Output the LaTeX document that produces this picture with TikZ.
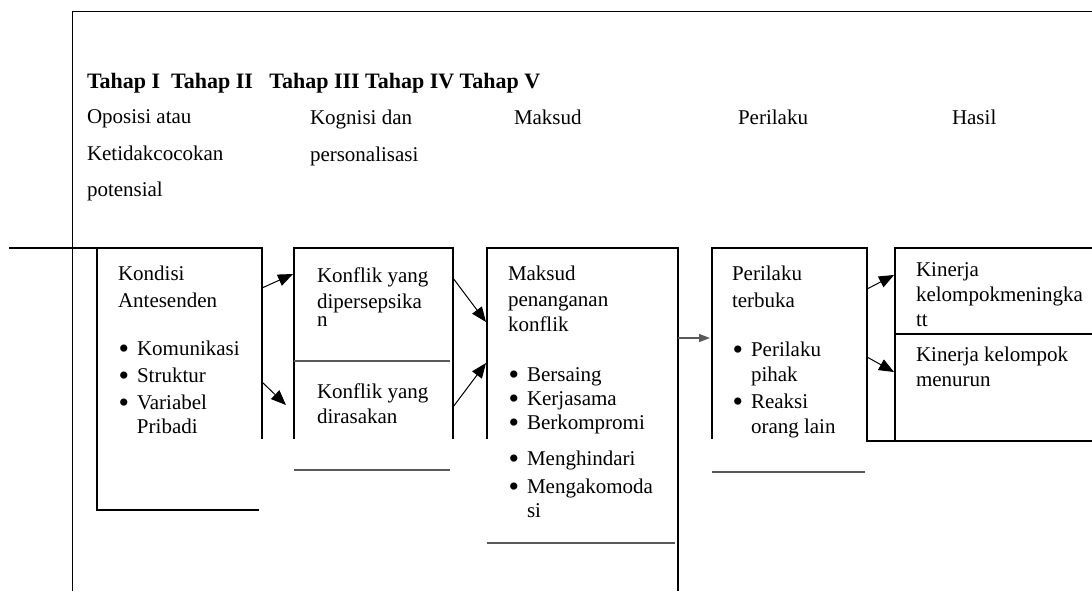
\documentclass[tikz,border=0pt]{standalone}
\usepackage{fontspec}
\setmainfont{Liberation Serif}
\usetikzlibrary{arrows.meta}
\newcommand{\bul}{\makebox[9.5pt][l]{\hspace{0.3pt}\raisebox{-1.6pt}{\fontsize{15}{15}\selectfont\textbullet}}}
\newcommand{\ind}{\hspace*{9.5pt}}

\begin{document}
\begin{tikzpicture}[x=0.5pt,y=-0.5pt,
txt/.style={inner sep=0pt,outer sep=0pt,align=left,font=\fontsize{10.5}{13}\selectfont},
headtxt/.style={txt,anchor=base west},
blocktxt/.style={txt,anchor=north west},
frameline/.style={line width=0.5pt},
boxline/.style={line width=0.8pt},
softline/.style={line width=0.7pt,black!65},
arr/.style={-{Triangle[length=7.5pt,width=6pt]},line width=0.5pt},
greyarr/.style={-{Triangle[length=5.5pt,width=4pt]},line width=0.7pt,black!65}]
\useasboundingbox (0,0) rectangle (1092,591);
\draw[frameline](72,591)--(72,11)--(1092,11);
\node[headtxt,font=\fontsize{11}{13}\selectfont\bfseries](tahap) at (87,88){Tahap I\ \ Tahap II\ \ \ Tahap III Tahap IV Tahap V};
\node[blocktxt](oposisi) at (87,109.7){Oposisi atau\\[5.5pt]Ketidakcocokan\\[5pt]potensial};
\node[blocktxt](kognisi) at (310,109.7){Kognisi dan\\[5.5pt]personalisasi};
\node[headtxt](maksudhd) at (514,124){Maksud};
\node[headtxt](perilakuhd) at (738,124){Perilaku};
\node[headtxt](hasilhd) at (952,124){Hasil};
\draw[boxline](9,248)--(262,248)--(262,439);
\draw[boxline](97,248)--(97,510)--(259,510);
\draw[boxline](294,439)--(294,248)--(453,248)--(453,439);
\draw[softline](294,361)--(450,361);
\draw[softline](294,470)--(450,470);
\draw[boxline](487,439)--(487,248)--(678,248)--(678,591);
\draw[softline](487,543)--(675,543);
\draw[boxline](712,439)--(712,248)--(867,248)--(867,441)--(1092,441);
\draw[softline](712,472)--(865,472);
\draw[boxline](895,441)--(895,248)--(1092,248);
\draw[boxline](895,334)--(1092,334);
\node[blocktxt](kondisi) at (118,265.7){Kondisi\\[0.5pt]Antesenden\\[11pt]\bul Komunikasi\\[0.5pt]\bul Struktur\\[0.5pt]\bul Variabel\\[-1pt]\ind Pribadi};
\node[blocktxt](dipersepsi) at (317,267.5){Konflik yang\\dipersepsika\\[-4pt]n};
\node[blocktxt](dirasa) at (317,383.5){Konflik yang\\[-0.5pt]dirasakan};
\node[blocktxt](maksud) at (508,265.7){Maksud\\penanganan\\[-0.5pt]konflik\\[12pt]\bul Bersaing\\[-1pt]\bul Kerjasama\\[-1pt]\bul Berkompromi\\[5pt]\bul Menghindari\\[1pt]\bul Mengakomoda\\[-1pt]\ind si};
\node[blocktxt](terbuka) at (732,265.7){Perilaku\\[0.5pt]terbuka\\[11.5pt]\bul Perilaku\\[-0.5pt]\ind pihak\\[0.5pt]\bul Reaksi\\[-0.5pt]\ind orang lain};
\node[blocktxt](naik) at (916,262.5){Kinerja\\[-0.5pt]kelompokmeningka\\[-0.5pt]tt};
\node[blocktxt](turun) at (916,346.5){Kinerja kelompok\\[-0.5pt]menurun};
\coordinate(kondisi-o1) at (262,288);\coordinate(dipersepsi-i) at (293,274);
\coordinate(kondisi-o2) at (262,382);\coordinate(dirasa-i) at (286,405);
\coordinate(dipersepsi-o) at (453,278);\coordinate(maksud-i1) at (486,322);
\coordinate(dirasa-o) at (453,407);\coordinate(maksud-i2) at (486,363);
\coordinate(maksud-o) at (678,338);\coordinate(terbuka-i) at (710,338);
\coordinate(terbuka-o1) at (867,289);\coordinate(naik-i) at (894,275);
\coordinate(terbuka-o2) at (867,357);\coordinate(turun-i) at (894,372);
\draw[arr](kondisi-o1)--(dipersepsi-i);\draw[arr](kondisi-o2)--(dirasa-i);
\draw[arr](dipersepsi-o)--(maksud-i1);\draw[arr](dirasa-o)--(maksud-i2);
\draw[greyarr](maksud-o)--(terbuka-i);
\draw[arr](terbuka-o1)--(naik-i);\draw[arr](terbuka-o2)--(turun-i);
\end{tikzpicture}
\end{document}
